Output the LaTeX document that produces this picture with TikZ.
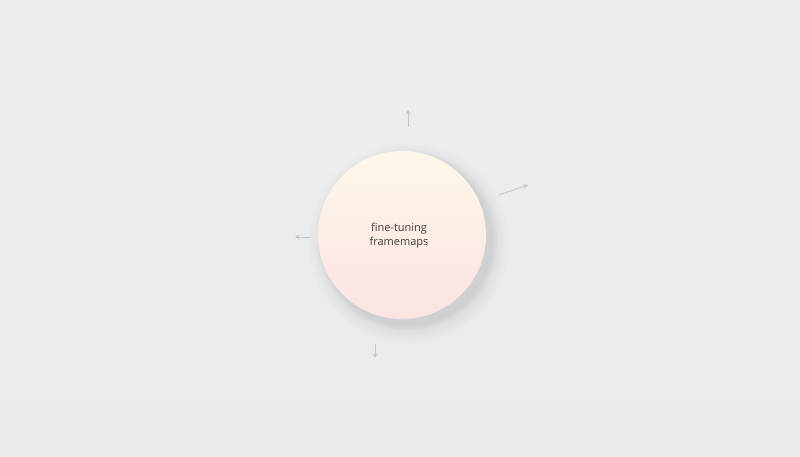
\documentclass[tikz,border=0pt]{standalone}
\usepackage{fontspec}
\setmainfont{Open Sans}
\usetikzlibrary{arrows.meta}
\definecolor{bg}{HTML}{E9EAEC}
\definecolor{bgtop}{HTML}{EDEEF0}
\definecolor{ctop}{HTML}{FEF7E8}
\definecolor{cbot}{HTML}{FBE3E2}
\definecolor{txt}{HTML}{3E3E3E}
\definecolor{arr}{HTML}{C2C5CA}
\tikzset{
  hint/.style={draw=arr, line width=0.8pt, -{Stealth[length=4.5pt,width=4.5pt]}},
  hub/.style={circle, minimum size=168pt, inner sep=0pt, top color=ctop, bottom color=cbot, draw=none},
  hubtext/.style={text=txt, font=\fontsize{11}{14}\selectfont, align=center}
}
\begin{document}
\begin{tikzpicture}[x=1pt,y=-1pt]
\shade[top color=bgtop, bottom color=bg] (0,0) rectangle (800,457);
\useasboundingbox (0,0) rectangle (800,457);
% soft shadow
\foreach \r in {100,98,...,84}{
  \fill[black!55, opacity=0.012] (409,243) circle (\r);
}
\foreach \r in {90,88,86}{
  \fill[black!55, opacity=0.025] (407,240) circle (\r);
}
\node[hub] (hub) at (402,235) {};
\node[hubtext] (lbl) at (399,236) {fine-tuning\\framemaps};
% arrow endpoints
\coordinate (upA) at (408,127);
\coordinate (upB) at (408,110);
\coordinate (rtA) at (499,195);
\coordinate (rtB) at (528,185);
\coordinate (ltA) at (311,237);
\coordinate (ltB) at (295,237);
\coordinate (dnA) at (375,344);
\coordinate (dnB) at (375,358);
\draw[hint] (upA) -- (upB);
\draw[hint] (rtA) -- (rtB);
\draw[hint] (ltA) -- (ltB);
\draw[hint] (dnA) -- (dnB);
\end{tikzpicture}
\end{document}
